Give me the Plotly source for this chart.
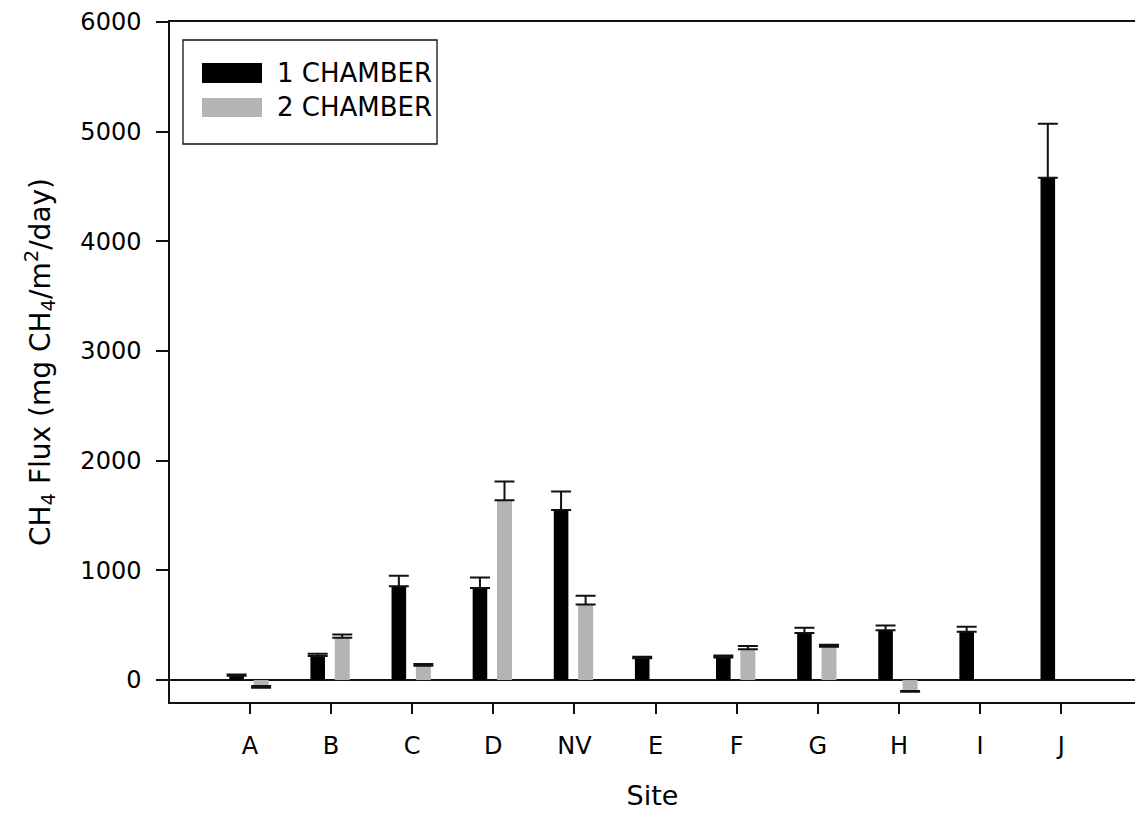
import plotly.graph_objects as go

sites = ["A", "B", "C", "D", "NV", "E", "F", "G", "H", "I", "J"]
one_chamber = [40, 220, 856, 840, 1550, 198, 205, 430, 455, 440, 4580]
one_chamber_err = [10, 20, 94, 95, 170, 15, 20, 46, 42, 46, 492]
two_chamber = [-55, 385, 130, 1640, 690, None, 280, 304, -100, None, None]
two_chamber_err = [15, 30, 16, 170, 78, None, 30, 18, 7, None, None]

yticks = [0, 1000, 2000, 3000, 4000, 5000, 6000]

FONT = "DejaVu Sans, Arial, sans-serif"


def split_err(vals, errs):
    up, down = [], []
    for v, e in zip(vals, errs):
        if v is None:
            up.append(0); down.append(0)
        elif v >= 0:
            up.append(e); down.append(0)
        else:
            up.append(0); down.append(e)
    return up, down


u1, d1 = split_err(one_chamber, one_chamber_err)
u2, d2 = split_err(two_chamber, two_chamber_err)

fig = go.Figure()
fig.add_trace(go.Bar(
    x=sites, y=one_chamber, name="1 CHAMBER",
    marker=dict(color="#000000", line=dict(width=0)),
    offset=-0.255, width=0.18,
    error_y=dict(type="data", array=u1, arrayminus=d1, symmetric=False,
                 color="#111111", thickness=2, width=10),
    showlegend=False,
))
fig.add_trace(go.Bar(
    x=sites, y=two_chamber, name="2 CHAMBER",
    marker=dict(color="#b4b4b4", line=dict(width=0)),
    offset=0.045, width=0.185,
    error_y=dict(type="data", array=u2, arrayminus=d2, symmetric=False,
                 color="#111111", thickness=2, width=10),
    showlegend=False,
))

H = 818 - 22 - 116
W = 1135 - 170


def px_x(p):
    return (p - 170) / W


def px_y(p):
    return 1 - (p - 22) / H


# legend drawn as a box with swatches and labels
shapes = [
    dict(type="rect", xref="paper", yref="paper",
         x0=px_x(183), x1=px_x(437), y0=px_y(144), y1=px_y(40),
         line=dict(color="#111111", width=1.3), fillcolor="white", layer="below"),
    dict(type="rect", xref="paper", yref="paper",
         x0=px_x(202), x1=px_x(262), y0=px_y(83), y1=px_y(63),
         line=dict(width=0), fillcolor="#000000"),
    dict(type="rect", xref="paper", yref="paper",
         x0=px_x(202), x1=px_x(262), y0=px_y(117), y1=px_y(98),
         line=dict(width=0), fillcolor="#b4b4b4"),
]
annotations = [
    dict(xref="paper", yref="paper", x=px_x(275), y=px_y(73), text="1 CHAMBER",
         showarrow=False, xanchor="left", yanchor="middle",
         font=dict(family=FONT, size=26, color="#000")),
    dict(xref="paper", yref="paper", x=px_x(275), y=px_y(107), text="2 CHAMBER",
         showarrow=False, xanchor="left", yanchor="middle",
         font=dict(family=FONT, size=26, color="#000")),
]

fig.update_layout(
    width=1135, height=818,
    margin=dict(l=170, r=0, t=22, b=116),
    paper_bgcolor="white", plot_bgcolor="white",
    barmode="overlay",
    font=dict(family=FONT, size=24, color="#000"),
    shapes=shapes, annotations=annotations,
    xaxis=dict(
        type="category", categoryorder="array", categoryarray=sites,
        range=[-0.986, 10.91],
        showline=True, linecolor="#111111", linewidth=1.5, mirror=True,
        ticks="outside", ticklen=10, tickwidth=1.5, tickcolor="#111111",
        showgrid=False, zeroline=False,
        ticklabelstandoff=11,
        title=dict(text="Site", standoff=28, font=dict(size=27)),
    ),
    yaxis=dict(
        range=[-200, 6000], tickvals=yticks,
        showline=True, linecolor="#111111", linewidth=1.5,
        ticks="outside", ticklen=12, tickwidth=1.5, tickcolor="#111111",
        showgrid=False,
        zeroline=True, zerolinecolor="#111111", zerolinewidth=1.5,
        ticklabelstandoff=10,
        title=dict(text="CH<sub>4</sub> Flux (mg CH<sub>4</sub>/m<sup>2</sup>/day)",
                   standoff=22, font=dict(size=28)),
    ),
)

fig.write_html("out.html")
